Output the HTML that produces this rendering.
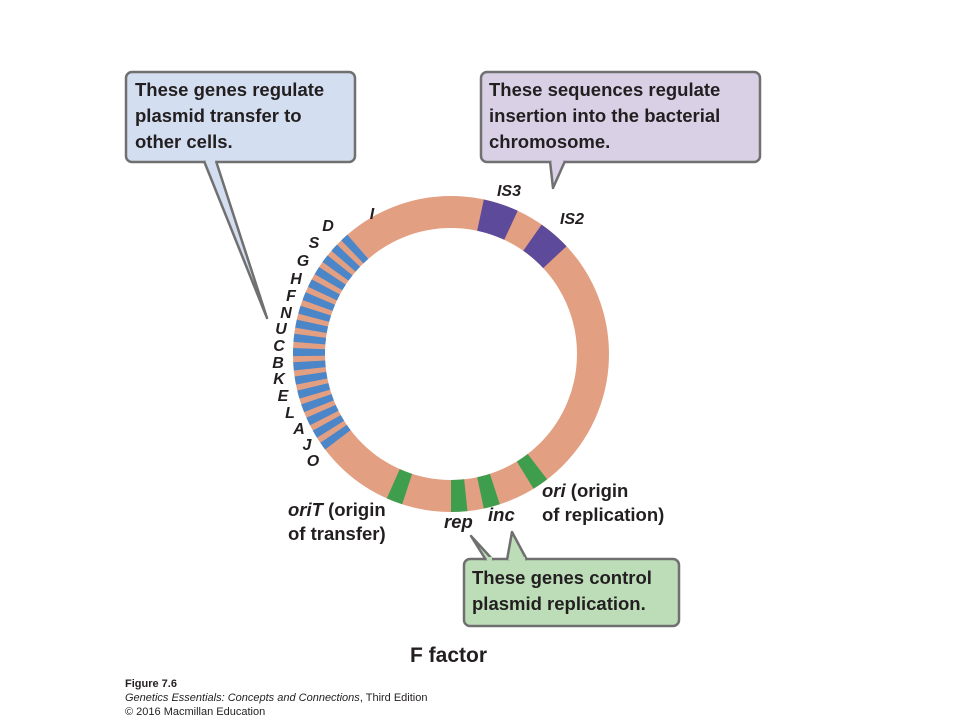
<!DOCTYPE html>
<html><head><meta charset="utf-8"><style>
body{margin:0;background:#fff}
svg{display:block}
text{font-family:"Liberation Sans",sans-serif}
</style></head><body>
<svg width="958" height="720" viewBox="0 0 958 720" xmlns="http://www.w3.org/2000/svg">
<!-- ring -->
<g fill="none" stroke-width="32" transform="translate(451,354)">
<circle r="142" stroke="#E39F82"/>
<g stroke="#4A86C8">
<circle r="142" pathLength="360" stroke-dasharray="3 357" stroke-dashoffset="-226"/>
<circle r="142" pathLength="360" stroke-dasharray="3 357" stroke-dashoffset="-220.8"/>
<circle r="142" pathLength="360" stroke-dasharray="3 357" stroke-dashoffset="-215.6"/>
<circle r="142" pathLength="360" stroke-dasharray="3 357" stroke-dashoffset="-210.4"/>
<circle r="142" pathLength="360" stroke-dasharray="3 357" stroke-dashoffset="-205.2"/>
<circle r="142" pathLength="360" stroke-dasharray="3 357" stroke-dashoffset="-200"/>
<circle r="142" pathLength="360" stroke-dasharray="3 357" stroke-dashoffset="-194.8"/>
<circle r="142" pathLength="360" stroke-dasharray="3 357" stroke-dashoffset="-189.6"/>
<circle r="142" pathLength="360" stroke-dasharray="3 357" stroke-dashoffset="-184.4"/>
<circle r="142" pathLength="360" stroke-dasharray="3 357" stroke-dashoffset="-179.2"/>
<circle r="142" pathLength="360" stroke-dasharray="3 357" stroke-dashoffset="-174"/>
<circle r="142" pathLength="360" stroke-dasharray="3 357" stroke-dashoffset="-168.8"/>
<circle r="142" pathLength="360" stroke-dasharray="3 357" stroke-dashoffset="-163.6"/>
<circle r="142" pathLength="360" stroke-dasharray="3 357" stroke-dashoffset="-158.4"/>
<circle r="142" pathLength="360" stroke-dasharray="3 357" stroke-dashoffset="-153.2"/>
<circle r="142" pathLength="360" stroke-dasharray="3 357" stroke-dashoffset="-148"/>
<circle r="142" pathLength="360" stroke-dasharray="3 357" stroke-dashoffset="-142.8"/>
</g>
<g stroke="#5E4A9A">
<circle r="142" pathLength="360" stroke-dasharray="13 347" stroke-dashoffset="-282"/>
<circle r="142" pathLength="360" stroke-dasharray="12 348" stroke-dashoffset="-305"/>
</g>
<g stroke="#3E9E4E">
<circle r="142" pathLength="360" stroke-dasharray="6 354" stroke-dashoffset="-108"/>
<circle r="142" pathLength="360" stroke-dasharray="6 354" stroke-dashoffset="-84"/>
<circle r="142" pathLength="360" stroke-dasharray="6 354" stroke-dashoffset="-72"/>
<circle r="142" pathLength="360" stroke-dasharray="6 354" stroke-dashoffset="-52.5"/>
</g>
</g>

<!-- callouts -->
<g stroke="#707070" stroke-width="2.5" stroke-linejoin="round">
<rect x="126" y="72" width="229" height="90" rx="6" fill="#D3DEF0"/>
<path d="M204,161 L267,318 L216,161" fill="#D3DEF0"/>
<rect x="481" y="72" width="279" height="90" rx="6" fill="#D9D0E6"/>
<path d="M550,161 L553,188 L565,161" fill="#D9D0E6"/>
<rect x="464" y="559" width="215" height="67" rx="6" fill="#BDDDB9"/>
<path d="M486,560 L471,536 L493,560 M507,560 L512,532 L527,560" fill="#BDDDB9"/>
</g>
<g fill="#D3DEF0"><rect x="206" y="158" width="9" height="5"/></g>
<g fill="#D9D0E6"><rect x="552" y="158" width="11" height="5"/></g>
<g fill="#BDDDB9"><rect x="488" y="557" width="4" height="5"/><rect x="510" y="557" width="15" height="5"/></g>

<g font-weight="bold" font-size="18.5" fill="#231f20">
<text x="135" y="96">These genes regulate</text>
<text x="135" y="122">plasmid transfer to</text>
<text x="135" y="148">other cells.</text>
<text x="489" y="96">These sequences regulate</text>
<text x="489" y="122">insertion into the bacterial</text>
<text x="489" y="148">chromosome.</text>
<text x="472" y="584">These genes control</text>
<text x="472" y="610">plasmid replication.</text>
</g>

<g font-weight="bold" font-style="italic" font-size="16" fill="#231f20" text-anchor="middle">
<text x="372" y="219">I</text>
<text x="328" y="231">D</text>
<text x="314" y="248">S</text>
<text x="303" y="266">G</text>
<text x="296" y="284">H</text>
<text x="291" y="301">F</text>
<text x="286" y="318">N</text>
<text x="281" y="334">U</text>
<text x="279" y="351">C</text>
<text x="278" y="368">B</text>
<text x="279" y="384">K</text>
<text x="283" y="401">E</text>
<text x="290" y="418">L</text>
<text x="299" y="434">A</text>
<text x="307" y="450">J</text>
<text x="313" y="466">O</text>
<text x="509" y="196">IS3</text>
<text x="572" y="224">IS2</text>
</g>

<g font-weight="bold" font-size="18.5" fill="#231f20">
<text x="288" y="516"><tspan font-style="italic">oriT</tspan> (origin</text>
<text x="288" y="540">of transfer)</text>
<text x="444" y="528" font-style="italic">rep</text>
<text x="488" y="521" font-style="italic">inc</text>
<text x="542" y="497"><tspan font-style="italic">ori</tspan> (origin</text>
<text x="542" y="521">of replication)</text>
<text x="410" y="662" font-size="21">F factor</text>
</g>

<g fill="#231f20" font-size="11">
<text x="125" y="687" font-weight="bold">Figure 7.6</text>
<text x="125" y="701"><tspan font-style="italic">Genetics Essentials: Concepts and Connections</tspan>, Third Edition</text>
<text x="125" y="715">© 2016 Macmillan Education</text>
</g>
</svg>
</body></html>
